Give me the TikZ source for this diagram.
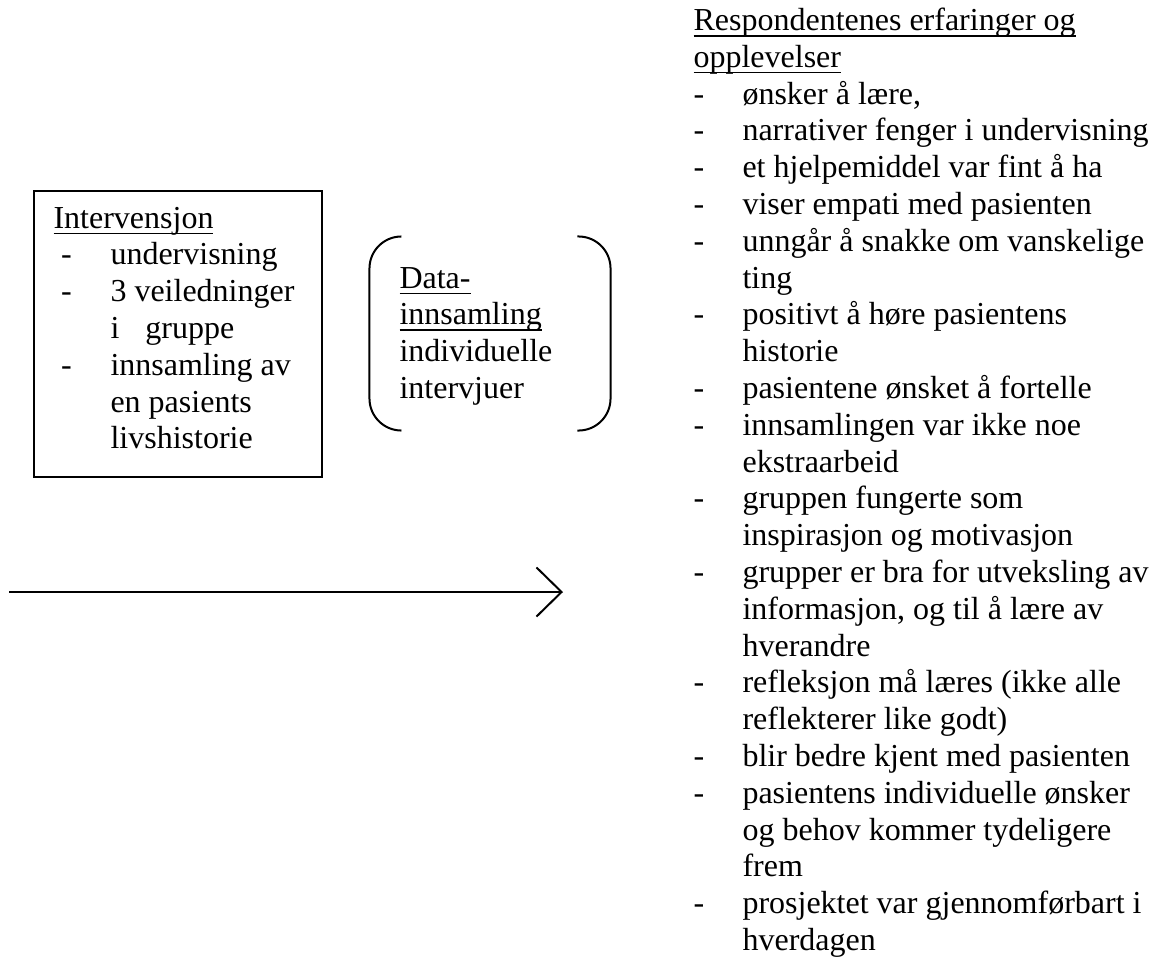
\documentclass[tikz,border=0pt]{standalone}
\usepackage{fontspec}
\setmainfont{Liberation Serif}
\usetikzlibrary{arrows.meta}
\newdimen\pxu \pxu=0.375pt
\newcommand\myul[1]{\setbox0\hbox{#1}\rlap{\rule[-2.3pt]{\wd0}{0.6pt}}\box0}
\newcommand\rdash{\makebox[49\pxu][l]{-}}
\newcommand\rcont{\hspace*{49\pxu}}
\newcommand\ldash{\makebox[57\pxu][l]{\hspace*{7.5\pxu}-}}
\newcommand\lcont{\hspace*{57\pxu}}
\begin{document}
\begin{tikzpicture}[x=0.375pt,y=-0.375pt,
  txt/.style={inner sep=0pt,anchor=base west,align=left,font=\rmfamily\fontsize{12pt}{13.8pt}\selectfont},
  ln/.style={line width=0.75pt}]
\useasboundingbox (0,0) rectangle (1159,961);
% left box
\node[draw,ln,inner sep=0pt,minimum width=108pt,minimum height=107.25pt] (ivbox) at (178,334) {};
\node[txt] (ivtext) at (53,448.8) {\myul{Intervensjon}\\
\ldash undervisning\\
\ldash 3 veiledninger\\
\lcont i\hspace{9.75pt}gruppe\\
\ldash innsamling av\\
\lcont en pasients\\
\lcont livshistorie};
% bracket frame
\node[inner sep=0pt,minimum width=90pt,minimum height=72.375pt] (dframe) at (490,333.5) {};
\draw[ln,rounded corners=12pt] ([xshift=12pt]dframe.north west) -- (dframe.north west) -- (dframe.south west) -- ([xshift=12pt]dframe.south west);
\draw[ln,rounded corners=12pt] ([xshift=-12.4pt]dframe.north east) -- (dframe.north east) -- (dframe.south east) -- ([xshift=-12.4pt]dframe.south east);
\node[txt] (dtext) at (399,398.4) {\myul{Data-}\\
\myul{innsamling}\\
individuelle\\
intervjuer};
% arrow
\coordinate (as) at (9,592);
\coordinate (ae) at (563,592);
\draw[ln,-{Straight Barb[length=9.4pt,width=18.4pt]}] (as) -- (ae);
% right column
\node[txt] (resp) at (693,950.5) {\myul{Respondentenes erfaringer og}\\
\myul{opplevelser}\\
\rdash ønsker å lære,\\
\rdash narrativer fenger i undervisning\\
\rdash et hjelpemiddel var fint å ha\\
\rdash viser empati med pasienten\\
\rdash unngår å snakke om vanskelige\\
\rcont ting\\
\rdash positivt å høre pasientens\\
\rcont historie\\
\rdash pasientene ønsket å fortelle\\
\rdash innsamlingen var ikke noe\\
\rcont ekstraarbeid\\
\rdash gruppen fungerte som\\
\rcont inspirasjon og motivasjon\\
\rdash grupper er bra for utveksling av\\
\rcont informasjon, og til å lære av\\
\rcont hverandre\\
\rdash refleksjon må læres (ikke alle\\
\rcont reflekterer like godt)\\
\rdash blir bedre kjent med pasienten\\
\rdash pasientens individuelle ønsker\\
\rcont og behov kommer tydeligere\\
\rcont frem\\
\rdash prosjektet var gjennomførbart i\\
\rcont hverdagen};
\end{tikzpicture}
\end{document}
